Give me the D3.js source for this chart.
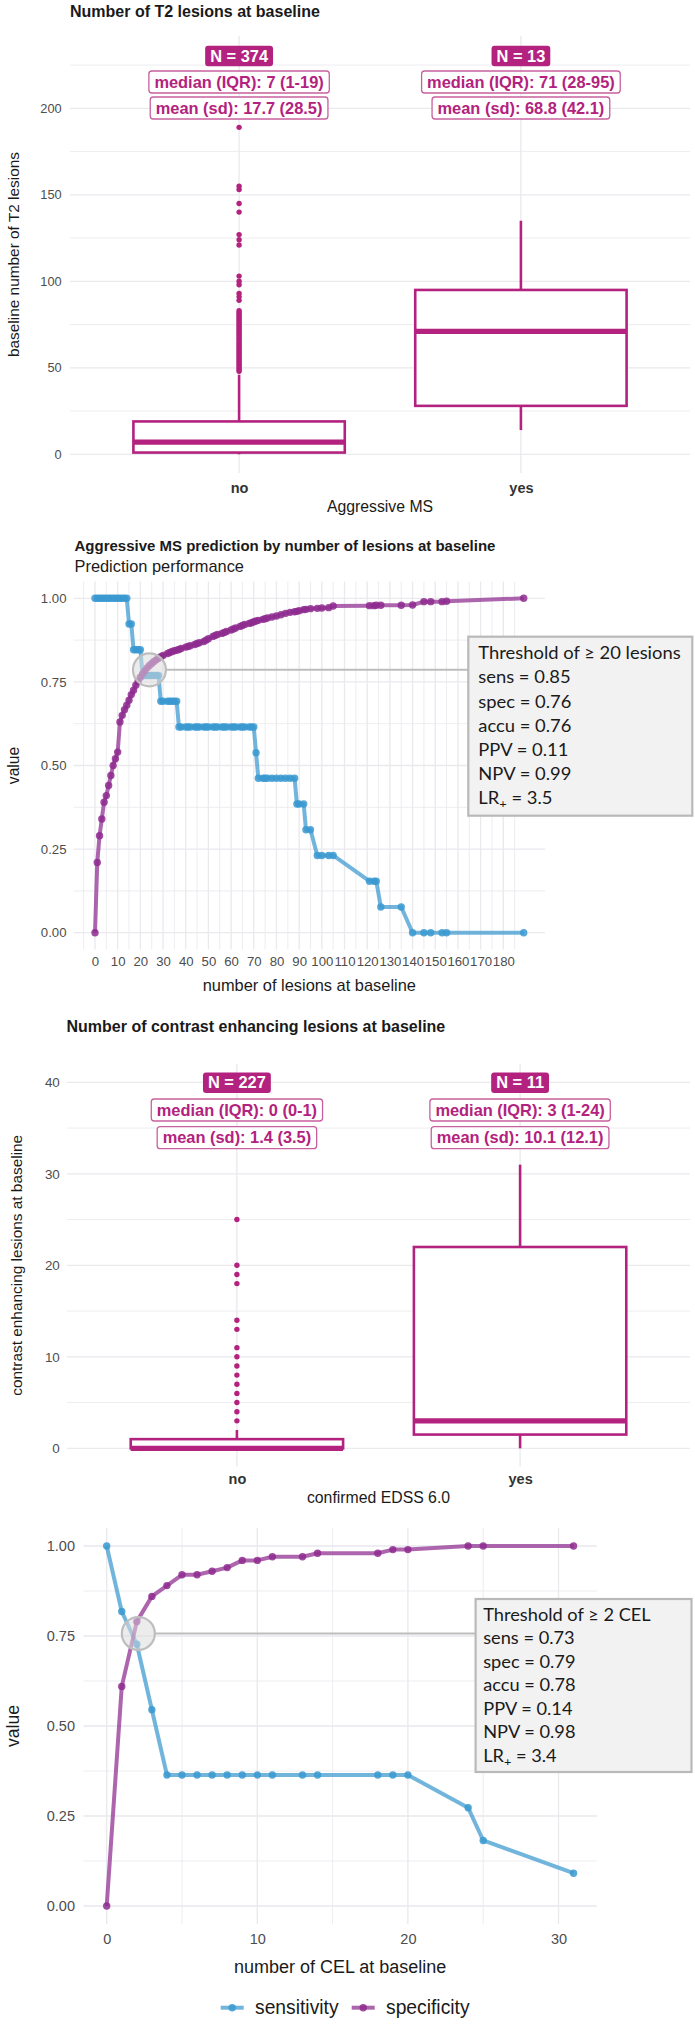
<!DOCTYPE html>
<html><head><meta charset="utf-8">
<script src="https://cdn.jsdelivr.net/npm/d3@7/dist/d3.min.js"></script>
<style>body{margin:0;background:#fff}svg{display:block}</style>
</head><body>
<svg id="c" width="695" height="2025"></svg>
<script>
// ---------------- DATA ----------------
const boxCategories = ["no", "yes"];

// Panel 1: T2 lesions
const t2Lower = [0, 14];
const t2Q1 = [1, 28];
const t2Median = [7, 71];
const t2Q3 = [19, 95];
const t2Upper = [46, 135];
const t2OutliersNo = [48,49,50,51,52,53,54,55,56,57,58,59,60,61,62,63,64,65,66,67,68,69,70,71,72,73,74,75,76,77,78,79,80,81,82,83,89,91,93,98,100,103,121,124,127,140,145,153,155,189];
const t2NLabels = ["N = 374", "N = 13"];
const t2MedianLabels = ["median (IQR): 7 (1-19)", "median (IQR): 71 (28-95)"];
const t2MeanLabels = ["mean (sd): 17.7 (28.5)", "mean (sd): 68.8 (42.1)"];
const t2YTicks = [0, 50, 100, 150, 200];

// Panel 2: prediction by number of lesions
const lesionThresholds = [
  0,1,2,3,4,5,6,7,8,9,
  10,11,12,13,14,15,16,17,18,19,
  20,21,22,23,24,25,26,27,28,29,
  30,32,33,34,35,36,37,38,40,41,
  42,44,45,46,48,49,50,52,53,54,
  56,57,58,60,61,62,64,65,66,68,
  69,70,71,72,74,75,76,78,80,82,
  84,86,88,89,90,92,93,95,98,100,
  103,105,121,123,124,126,135,140,145,148,
  153,155,189];
const lesionSens = [
  1,1,1,1,1,1,1,1,1,1,
  1,1,1,1,1,0.923,0.923,0.846,0.846,0.846,
  0.846,0.769,0.769,0.769,0.769,0.769,0.769,0.769,0.769,0.692,
  0.692,0.692,0.692,0.692,0.692,0.692,0.615,0.615,0.615,0.615,
  0.615,0.615,0.615,0.615,0.615,0.615,0.615,0.615,0.615,0.615,
  0.615,0.615,0.615,0.615,0.615,0.615,0.615,0.615,0.615,0.615,
  0.615,0.615,0.538,0.462,0.462,0.462,0.462,0.462,0.462,0.462,
  0.462,0.462,0.462,0.385,0.385,0.385,0.308,0.308,0.231,0.231,
  0.231,0.231,0.154,0.154,0.154,0.077,0.077,0,0,0,
  0,0,0];
const lesionSpec = [
  0,0.21,0.29,0.34,0.39,0.41,0.44,0.47,0.50,0.52,
  0.54,0.63,0.65,0.667,0.68,0.695,0.712,0.725,0.74,0.752,
  0.764,0.774,0.783,0.792,0.799,0.805,0.811,0.816,0.821,0.825,
  0.829,0.835,0.838,0.841,0.843,0.845,0.847,0.85,0.854,0.856,
  0.858,0.862,0.865,0.867,0.871,0.875,0.879,0.886,0.889,0.892,
  0.895,0.898,0.901,0.905,0.908,0.911,0.916,0.919,0.922,0.925,
  0.927,0.93,0.932,0.934,0.937,0.939,0.941,0.944,0.947,0.951,
  0.955,0.958,0.96,0.961,0.963,0.966,0.967,0.969,0.97,0.971,
  0.972,0.977,0.978,0.978,0.979,0.979,0.979,0.98,0.99,0.99,
  0.99,0.991,1];
const lesionXTicks = [0,10,20,30,40,50,60,70,80,90,100,110,120,130,140,150,160,170,180];
const lesionXMinor = [-5,5,15,25,35,45,55,65,75,85,95,105,115,125,135,145,155,165,175,185];
const valueTicks = [0, 0.25, 0.5, 0.75, 1];
const valueMinor = [0.125, 0.375, 0.625, 0.875];
const lesionHighlight = [24, 0.786];
const lesionAnnot = ["Threshold of \u2265 20 lesions","sens = 0.85","spec = 0.76","accu = 0.76","PPV = 0.11","NPV = 0.99","LR+ = 3.5"];

// Panel 3: contrast enhancing lesions
const celLower = [0, 0];
const celQ1 = [0, 1.5];
const celMedian = [0, 3];
const celQ3 = [1, 22];
const celUpper = [2, 31];
const celOutliersNo = [3,4,5,6,7,8,9,10,11,13,14,18,19,20,25];
const celNLabels = ["N = 227", "N = 11"];
const celMedianLabels = ["median (IQR): 0 (0-1)", "median (IQR): 3 (1-24)"];
const celMeanLabels = ["mean (sd): 1.4 (3.5)", "mean (sd): 10.1 (12.1)"];
const celYTicks = [0, 10, 20, 30, 40];

// Panel 4: prediction by CEL
const celThresholds = [0,1,2,3,4,5,6,7,8,9,10,11,13,14,18,19,20,24,25,31];
const celSens = [1,0.818,0.727,0.545,0.364,0.364,0.364,0.364,0.364,0.364,0.364,0.364,0.364,0.364,0.364,0.364,0.364,0.273,0.182,0.091];
const celSpec = [0,0.61,0.79,0.86,0.89,0.92,0.92,0.93,0.94,0.96,0.96,0.97,0.97,0.98,0.98,0.99,0.99,1,1,1];
const celXTicks = [0, 10, 20, 30];
const celXMinor = [5, 15, 25];
const celHighlight = [2.1, 0.757];
const celAnnot = ["Threshold of \u2265 2 CEL","sens = 0.73","spec = 0.79","accu = 0.78","PPV = 0.14","NPV = 0.98","LR+ = 3.4"];

const seriesNames = ["sensitivity", "specificity"];

// ---------------- STYLE ----------------
const MAG = "#B3227E", MAG_BORDER = "#C8609F", BLUE = "#3A99D0", PURP = "#8E2B8F";
const GRID = "#E9E9EE", TICK = "#4D4D4D", TXT = "#1A1A1A";
const SANS = "'Liberation Sans', Arial, Helvetica, sans-serif";
const ANN = "Lato, 'Open Sans', sans-serif";
const LW = 4, PR = 3.7;

const svg = d3.select("#c");
svg.append("rect").attr("width", 695).attr("height", 2025).attr("fill", "#fff");

function text(g, x, y, s, o) {
  o = o || {};
  return g.append("text").attr("x", x).attr("y", y).text(s)
    .attr("font-family", o.family || SANS).attr("font-size", o.size || 14)
    .attr("font-weight", o.weight || "normal").attr("fill", o.fill || TXT)
    .attr("text-anchor", o.anchor || "start").attr("dy", o.dy || "0.35em");
}

function styleAxis(a, size, fill, weight) {
  a.select(".domain").remove();
  a.attr("font-family", SANS).attr("font-size", size);
  a.selectAll("text").attr("fill", fill).attr("font-weight", weight || "normal");
}

// ---------------- BOX PANELS ----------------
function boxPanel(c) {
  const g = svg.append("g");
  const x = d3.scalePoint().domain(boxCategories).range(c.xRange).padding(0.6);
  const y = d3.scaleLinear().domain(c.yDomain).range(c.yRange);
  const bw = x.step() * 0.75;
  c.minorY.forEach(v => { const py = y(v); if (py >= c.top && py <= c.bottom)
    g.append("line").attr("x1", c.xRange[0]).attr("x2", c.xRange[1]).attr("y1", py).attr("y2", py).attr("stroke", GRID).attr("stroke-width", 0.8); });
  c.yTicks.forEach(v => g.append("line").attr("x1", c.xRange[0]).attr("x2", c.xRange[1]).attr("y1", y(v)).attr("y2", y(v)).attr("stroke", GRID).attr("stroke-width", 1.3));
  boxCategories.forEach(k => g.append("line").attr("x1", x(k)).attr("x2", x(k)).attr("y1", c.top).attr("y2", c.bottom).attr("stroke", GRID).attr("stroke-width", 1.3));
  boxCategories.forEach((k, i) => {
    const cx = x(k);
    g.append("line").attr("x1", cx).attr("x2", cx).attr("y1", y(c.q3[i])).attr("y2", y(c.upper[i])).attr("stroke", MAG).attr("stroke-width", 2.6);
    g.append("line").attr("x1", cx).attr("x2", cx).attr("y1", y(c.q1[i])).attr("y2", y(c.lower[i])).attr("stroke", MAG).attr("stroke-width", 2.6);
    g.append("rect").attr("x", cx - bw / 2).attr("width", bw).attr("y", y(c.q3[i])).attr("height", y(c.q1[i]) - y(c.q3[i]))
      .attr("fill", "#fff").attr("stroke", MAG).attr("stroke-width", 2.6);
    g.append("line").attr("x1", cx - bw / 2).attr("x2", cx + bw / 2).attr("y1", y(c.median[i])).attr("y2", y(c.median[i])).attr("stroke", MAG).attr("stroke-width", 5.2);
  });
  g.selectAll("circle.out").data(c.outliers).enter().append("circle")
    .attr("cx", x("no")).attr("cy", d => y(d)).attr("r", 2.7).attr("fill", MAG);
  boxCategories.forEach((k, i) => {
    const cx = x(k);
    [[c.nLabels[i], c.labelY[0], true], [c.medLabels[i], c.labelY[1], false], [c.meanLabels[i], c.labelY[2], false]].forEach(([s, cy, filled]) => {
      const r = g.append("rect");
      const t = text(g, cx, cy, s, {size: 16.4, weight: "bold", anchor: "middle", fill: filled ? "#fff" : MAG});
      const w = t.node().getComputedTextLength() + (filled ? 10 : 11);
      const h = filled ? 20.5 : 22;
      r.attr("x", cx - w / 2).attr("y", cy - h / 2).attr("width", w).attr("height", h).attr("rx", 3)
        .attr("fill", filled ? MAG : "#fff").attr("stroke", filled ? MAG : MAG_BORDER).attr("stroke-width", filled ? 0 : 1.3);
    });
  });
  g.append("g").attr("transform", `translate(${c.tickRight},0)`)
    .call(d3.axisLeft(y).tickValues(c.yTicks).tickSize(0).tickPadding(0))
    .call(a => styleAxis(a, c.tickSize, TICK));
  g.append("g").attr("transform", `translate(0,${c.catY - 0.35 * 14.5})`)
    .call(d3.axisBottom(x).tickSize(0).tickPadding(0))
    .call(a => styleAxis(a, 14.5, "#333", "bold"));
  text(g, (c.xRange[0] + c.xRange[1]) / 2, c.xTitleY, c.xTitle, {size: 15.8, anchor: "middle"});
  text(g, 0, 0, c.yTitle, {size: 15.4, anchor: "middle"}).attr("transform", `translate(${c.yTitleX},${(c.top + c.bottom) / 2}) rotate(-90)`);
  text(g, c.titleX, c.titleY, c.title, {size: 16, weight: "bold"});
}

boxPanel({
  xRange: [70, 690], yDomain: [0, 200], yRange: [454.3, 108.3], top: 36, bottom: 473,
  yTicks: t2YTicks, minorY: [25, 75, 125, 175, 225],
  lower: t2Lower, q1: t2Q1, median: t2Median, q3: t2Q3, upper: t2Upper, outliers: t2OutliersNo,
  nLabels: t2NLabels, medLabels: t2MedianLabels, meanLabels: t2MeanLabels, labelY: [56, 82, 108],
  tickRight: 61.7, tickSize: 12.8, catY: 487.3, xTitle: "Aggressive MS", xTitleY: 506,
  yTitle: "baseline number of T2 lesions", yTitleX: 13.3,
  title: "Number of T2 lesions at baseline", titleX: 70, titleY: 11.7
});

boxPanel({
  xRange: [67, 690], yDomain: [0, 40], yRange: [1448.3, 1082.3], top: 1064, bottom: 1466.6,
  yTicks: celYTicks, minorY: [5, 15, 25, 35],
  lower: celLower, q1: celQ1, median: celMedian, q3: celQ3, upper: celUpper, outliers: celOutliersNo,
  nLabels: celNLabels, medLabels: celMedianLabels, meanLabels: celMeanLabels, labelY: [1082.7, 1110, 1137.7],
  tickRight: 59.8, tickSize: 13.4, catY: 1479, xTitle: "confirmed EDSS 6.0", xTitleY: 1497,
  yTitle: "contrast enhancing lesions at baseline", yTitleX: 16.5,
  title: "Number of contrast enhancing lesions at baseline", titleX: 66.5, titleY: 1026
});

// ---------------- LINE PANELS ----------------
function linePanel(c) {
  const g = svg.append("g");
  const x = d3.scaleLinear().domain(c.xDomain).range(c.xPix);
  const y = d3.scaleLinear().domain([0, 1]).range(c.yPix);
  c.xMinor.forEach(v => { const px = x(v); if (px >= c.left && px <= c.right)
    g.append("line").attr("x1", px).attr("x2", px).attr("y1", c.top).attr("y2", c.bottom).attr("stroke", GRID).attr("stroke-width", 0.8); });
  valueMinor.forEach(v => g.append("line").attr("x1", c.left).attr("x2", c.right).attr("y1", y(v)).attr("y2", y(v)).attr("stroke", GRID).attr("stroke-width", 0.8));
  c.xTicks.forEach(v => g.append("line").attr("x1", x(v)).attr("x2", x(v)).attr("y1", c.top).attr("y2", c.bottom).attr("stroke", GRID).attr("stroke-width", 1.3));
  valueTicks.forEach(v => g.append("line").attr("x1", c.left).attr("x2", c.right).attr("y1", y(v)).attr("y2", y(v)).attr("stroke", GRID).attr("stroke-width", 1.3));
  const series = [
    {col: BLUE, pts: c.thr.map((t, i) => [t, c.sens[i]])},
    {col: PURP, pts: c.thr.map((t, i) => [t, c.spec[i]])}
  ];
  const line = d3.line().x(d => x(d[0])).y(d => y(d[1]));
  series.forEach(s => g.append("path").attr("d", line(s.pts)).attr("fill", "none").attr("stroke", s.col)
    .attr("stroke-width", LW).attr("stroke-opacity", 0.72).attr("stroke-linejoin", "round"));
  series.forEach(s => g.selectAll(null).data(s.pts).enter().append("circle")
    .attr("cx", d => x(d[0])).attr("cy", d => y(d[1])).attr("r", PR).attr("fill", s.col).attr("fill-opacity", 0.85));
  const hx = x(c.hl[0]), hy = y(c.hl[1]);
  g.append("line").attr("x1", hx + 16.5).attr("x2", c.box[0]).attr("y1", hy).attr("y2", hy).attr("stroke", "#BDBDBD").attr("stroke-width", 2);
  g.append("circle").attr("cx", hx).attr("cy", hy).attr("r", 16.5).attr("fill", "#DCDCDC").attr("fill-opacity", 0.55)
    .attr("stroke", "#BEBEBE").attr("stroke-width", 2.2);
  g.append("rect").attr("x", c.box[0]).attr("y", c.box[1]).attr("width", c.box[2] - c.box[0]).attr("height", c.box[3] - c.box[1])
    .attr("fill", "#F2F2F3").attr("stroke", "#B9B9B9").attr("stroke-width", 2.2);
  const ag = g.append("g");
  c.annot.forEach((s, i) => {
    const t = ag.append("text").attr("x", 0).attr("y", c.annBase + i * c.annStep)
      .attr("font-family", ANN).attr("font-size", c.annSize).attr("fill", TXT);
    if (s.startsWith("LR+")) {
      t.append("tspan").text("LR");
      t.append("tspan").text("+").attr("font-size", c.annSize * 0.7).attr("dy", 4);
      t.append("tspan").text(s.slice(3)).attr("dy", -4);
    } else t.text(s);
  });
  const w0 = ag.select("text").node().getComputedTextLength();
  const f = c.annW / w0;
  ag.attr("transform", `translate(${c.annX},0) scale(${f},1)`);
  g.append("g").attr("transform", `translate(${c.tickRight},0)`)
    .call(d3.axisLeft(y).tickValues(valueTicks).tickSize(0).tickPadding(0).tickFormat(d3.format(".2f")))
    .call(a => styleAxis(a, c.tickSize, TICK));
  g.append("g").attr("transform", `translate(0,${c.xTickY - 0.35 * c.tickSize})`)
    .call(d3.axisBottom(x).tickValues(c.xTicks).tickSize(0).tickPadding(0))
    .call(a => styleAxis(a, c.tickSize, TICK));
  text(g, (c.left + c.right) / 2, c.xTitleY, c.xTitle, {size: c.titleSize, anchor: "middle"});
  text(g, 0, 0, "value", {size: c.valueSize, anchor: "middle"}).attr("transform", `translate(13.3,${(c.top + c.bottom) / 2}) rotate(-90)`);
  return g;
}

const p2 = linePanel({
  xDomain: [0, 180], xPix: [95, 503.3], yPix: [932.7, 598.3], left: 73.6, right: 545, top: 581.6, bottom: 949.4,
  xTicks: lesionXTicks, xMinor: lesionXMinor, thr: lesionThresholds, sens: lesionSens, spec: lesionSpec,
  hl: lesionHighlight, box: [468.3, 636.7, 692.3, 815.7], annot: lesionAnnot,
  annX: 478.3, annBase: 659.3, annStep: 24.17, annSize: 17.7, annW: 202.4,
  tickRight: 66.5, tickSize: 13.2, xTickY: 961.7, xTitle: "number of lesions at baseline", xTitleY: 985.7,
  titleSize: 16.4, valueSize: 15.6
});
text(p2, 74.5, 545.7, "Aggressive MS prediction by number of lesions at baseline", {size: 15, weight: "bold"});
text(p2, 74.5, 566.7, "Prediction performance", {size: 16.4});

linePanel({
  xDomain: [0, 30], xPix: [106.7, 558.5], yPix: [1906, 1546], left: 83.4, right: 596.9, top: 1528, bottom: 1924,
  xTicks: celXTicks, xMinor: celXMinor, thr: celThresholds, sens: celSens, spec: celSpec,
  hl: celHighlight, box: [475.6, 1599, 691.5, 1772], annot: celAnnot,
  annX: 483.2, annBase: 1621, annStep: 23.45, annSize: 17.1, annW: 167.6,
  tickRight: 75, tickSize: 14.5, xTickY: 1938.3, xTitle: "number of CEL at baseline", xTitleY: 1966.7,
  titleSize: 18, valueSize: 17.6
});

// ---------------- LEGEND ----------------
const lg = svg.append("g");
const legendX = [220.7, 351.7];
seriesNames.forEach((s, i) => {
  const col = i === 0 ? BLUE : PURP, x0 = legendX[i], ly = 2007.7;
  lg.append("line").attr("x1", x0).attr("x2", x0 + 23).attr("y1", ly).attr("y2", ly).attr("stroke", col).attr("stroke-width", LW).attr("stroke-opacity", 0.72);
  lg.append("circle").attr("cx", x0 + 11.5).attr("cy", ly).attr("r", PR).attr("fill", col).attr("fill-opacity", 0.85);
  text(lg, x0 + 34.3, ly, s, {size: 19.3});
});
</script>
</body></html>
